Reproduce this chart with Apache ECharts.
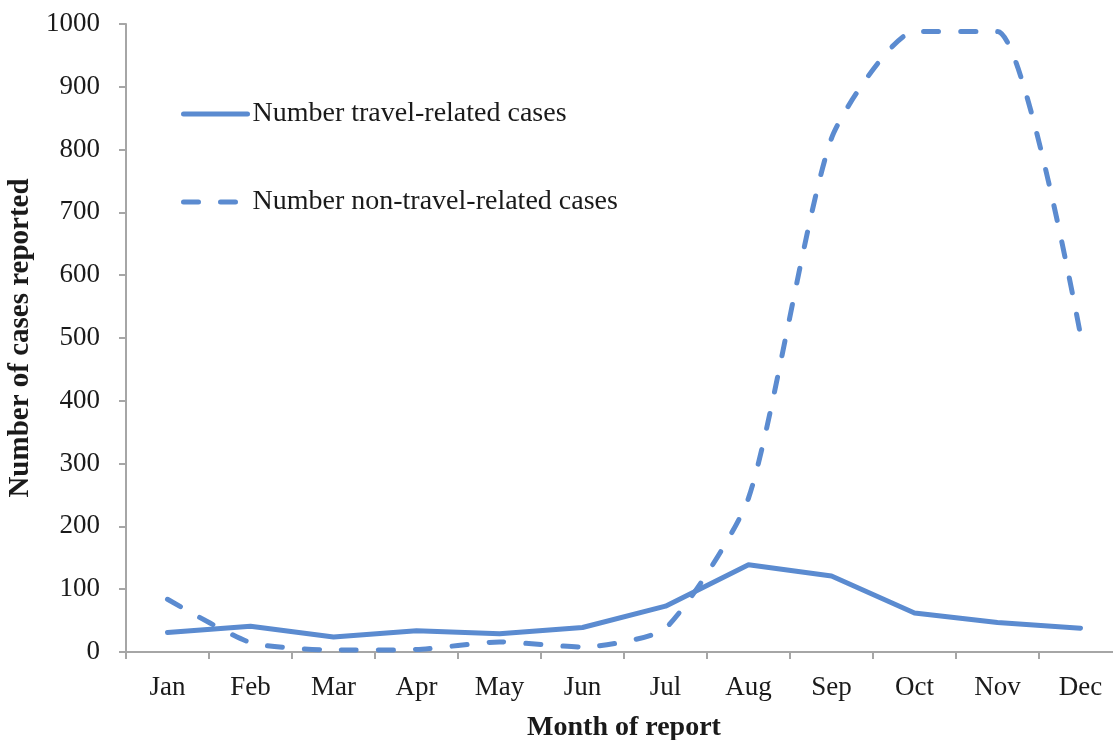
<!DOCTYPE html>
<html>
<head>
<meta charset="utf-8">
<script src="https://cdn.jsdelivr.net/npm/echarts@6/dist/echarts.min.js"></script>
<style>
  html, body { margin: 0; padding: 0; background: #fff; }
  #chart { width: 1113px; height: 740px; }
</style>
</head>
<body>
<div id="chart"></div>
<script>
const months = ['Jan', 'Feb', 'Mar', 'Apr', 'May', 'Jun', 'Jul', 'Aug', 'Sep', 'Oct', 'Nov', 'Dec'];
const travelCases = [31, 41, 24, 34, 29, 39, 73, 139, 121, 62, 47, 38];
const nonTravelCases = [84, 15, 3, 4, 16, 8, 38, 245, 818, 988, 988, 505];
const yTicks = { min: 0, max: 1000, interval: 100 };

const serif = '"Liberation Serif", "Times New Roman", serif';
const blue = '#5b8bd0';
const axisGray = '#a6a6a6';
const textColor = '#1a1a1a';

const chart = echarts.init(document.getElementById('chart'));
chart.setOption({
  animation: false,
  grid: { left: 126, top: 24, bottom: 88, width: 996, containLabel: false, outerBoundsMode: 'none' },
  legend: {
    orient: 'vertical',
    left: 176,
    top: 95,
    itemWidth: 64,
    itemHeight: 28,
    itemGap: 60,
    itemStyle: { opacity: 0 },
    lineStyle: { width: 5, cap: 'round' },
    textStyle: { fontFamily: serif, fontSize: 28, lineHeight: 28, color: textColor },
    data: ['Number travel-related cases', 'Number non-travel-related cases']
  },
  xAxis: {
    type: 'category',
    data: months,
    boundaryGap: true,
    name: 'Month of report',
    nameLocation: 'middle',
    nameGap: 62,
    nameTextStyle: { fontFamily: serif, fontSize: 28, fontWeight: 'bold', color: textColor },
    axisLine: { lineStyle: { color: axisGray, width: 2 } },
    axisTick: { show: true, length: 7, lineStyle: { color: axisGray, width: 2 } },
    axisLabel: { fontFamily: serif, fontSize: 27, color: textColor, margin: 22 }
  },
  yAxis: {
    type: 'value',
    min: yTicks.min,
    max: yTicks.max,
    interval: yTicks.interval,
    name: 'Number of cases reported',
    nameLocation: 'middle',
    nameGap: 86,
    nameTextStyle: { fontFamily: serif, fontSize: 29, fontWeight: 'bold', color: textColor },
    axisLine: { show: true, lineStyle: { color: axisGray, width: 2 } },
    axisTick: { show: true, length: 7, lineStyle: { color: axisGray, width: 2 } },
    splitLine: { show: false },
    axisLabel: { fontFamily: serif, fontSize: 27, color: textColor, margin: 26, formatter: v => String(v) }
  },
  series: [
    {
      name: 'Number travel-related cases',
      type: 'line',
      data: travelCases,
      symbol: 'none',
      color: blue,
      lineStyle: { color: blue, width: 5, cap: 'round', join: 'round' }
    },
    {
      name: 'Number non-travel-related cases',
      type: 'line',
      data: nonTravelCases,
      symbol: 'none',
      smooth: 0.2,
      color: blue,
      lineStyle: { color: blue, width: 5, type: [15, 22], cap: 'round', join: 'round' }
    }
  ]
});
</script>
</body>
</html>
